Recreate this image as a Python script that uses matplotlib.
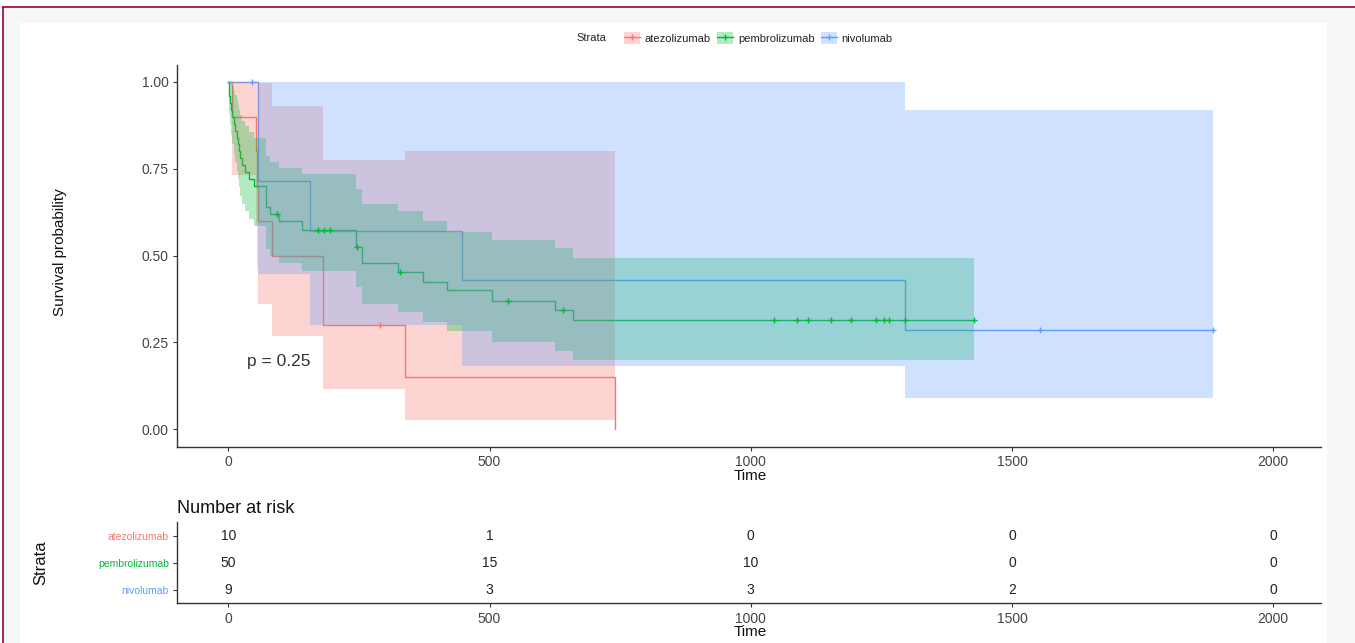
import numpy as np
import matplotlib
matplotlib.use('Agg')
import matplotlib.pyplot as plt
from matplotlib.patches import Patch, Rectangle
from matplotlib.lines import Line2D

plt.rcParams['font.family'] = ['Liberation Sans', 'DejaVu Sans']

# ---------------- data ----------------
strata = ['atezolizumab', 'pembrolizumab', 'nivolumab']
colors = ['#F8766D', '#00BA38', '#619CFF']

atezo_time = [0, 8, 53, 55, 57, 84, 181, 338, 740]
atezo_surv = [1.0, 0.90, 0.80, 0.70, 0.60, 0.50, 0.30, 0.15, 0.0]
atezo_lower = [1.0, 0.732, 0.587, 0.467, 0.362, 0.269, 0.116, 0.028, 0.0]
atezo_upper = [1.0, 1.0, 1.0, 1.0, 0.996, 0.93, 0.774, 0.80, 0.0]
atezo_censor = [290]
atezo_end = 740

pembro_time = [0, 1, 2, 4, 6, 8, 11, 13, 16, 19, 21, 23, 26, 32, 40, 50,
               73, 80, 98, 142, 245, 255, 324, 372, 418, 504, 625, 660]
pembro_surv = [1.0, 0.98, 0.96, 0.94, 0.92, 0.90, 0.88, 0.86, 0.84, 0.82,
               0.80, 0.78, 0.76, 0.74, 0.72, 0.70, 0.64, 0.62, 0.60, 0.575,
               0.525, 0.478, 0.452, 0.424, 0.400, 0.369, 0.343, 0.314]
pembro_lower = [1.0, 0.942, 0.907, 0.876, 0.848, 0.821, 0.794, 0.769, 0.744,
                0.720, 0.697, 0.673, 0.650, 0.628, 0.606, 0.584, 0.520, 0.500,
                0.478, 0.456, 0.409, 0.360, 0.337, 0.310, 0.283, 0.252, 0.226,
                0.199]
pembro_upper = [1.0, 1.0, 1.0, 1.0, 0.998, 0.987, 0.975, 0.962, 0.948, 0.934,
                0.919, 0.904, 0.888, 0.872, 0.856, 0.839, 0.788, 0.770, 0.752,
                0.734, 0.693, 0.650, 0.628, 0.600, 0.569, 0.546, 0.523, 0.493]
pembro_censor = [94, 171, 184, 194, 247, 328, 535, 640, 1045, 1089, 1110,
                 1154, 1191, 1240, 1255, 1265, 1295, 1428]
pembro_end = 1428

nivo_time = [0, 56, 156, 447, 1295]
nivo_surv = [1.0, 0.714, 0.571, 0.429, 0.286]
nivo_lower = [1.0, 0.447, 0.301, 0.183, 0.089]
nivo_upper = [1.0, 1.0, 1.0, 1.0, 0.919]
nivo_censor = [45, 1554, 1885]
nivo_end = 1885

risk_times = [0, 500, 1000, 1500, 2000]
atezo_risk = [10, 1, 0, 0, 0]
pembro_risk = [50, 15, 10, 0, 0]
nivo_risk = [9, 3, 3, 2, 0]

pval_text = 'p = 0.25'
x_ticks = [0, 500, 1000, 1500, 2000]
y_ticks = [0.0, 0.25, 0.5, 0.75, 1.0]
y_ticklabels = ['0.00', '0.25', '0.50', '0.75', '1.00']

series = [
    (atezo_time, atezo_surv, atezo_lower, atezo_upper, atezo_censor, atezo_end),
    (pembro_time, pembro_surv, pembro_lower, pembro_upper, pembro_censor, pembro_end),
    (nivo_time, nivo_surv, nivo_lower, nivo_upper, nivo_censor, nivo_end),
]
risks = [atezo_risk, pembro_risk, nivo_risk]

# ---------------- figure ----------------
W, H = 1355, 643
fig = plt.figure(figsize=(W / 100, H / 100), dpi=100, facecolor='white')
fig.patches.append(Rectangle((3 / W, 0), 1 - 3 / W, 1 - 7 / H, transform=fig.transFigure,
                             facecolor='#f6f6f6', edgecolor='none', zorder=-3))
fig.patches.append(Rectangle((20 / W, 0), (1327 - 20) / W, 1 - 23 / H, transform=fig.transFigure,
                             facecolor='white', edgecolor='none', zorder=-2))
border = '#a4123f'
fig.add_artist(Line2D([3 / W, 1], [1 - 7 / H, 1 - 7 / H], transform=fig.transFigure,
                      color=border, lw=1.3))
fig.add_artist(Line2D([3 / W, 3 / W], [0, 1 - 7 / H], transform=fig.transFigure,
                      color=border, lw=1.3))

xlim = (-97.6, 2091)
axis_col = '#333333'
tick_col = '#444444'

ax = fig.add_axes([177.3 / W, (H - 446.7) / H, 1143.4 / W, (446.7 - 64.6) / H])
ax.set_facecolor('white')
ax.set_xlim(*xlim)
ax.set_ylim(-0.05, 1.05)

for (t, s, lo, up, cens, end), c in zip(series, colors):
    t = np.asarray(t, float)
    s = np.asarray(s, float)
    lo = np.asarray(lo, float)
    up = np.asarray(up, float)
    tt = np.append(t, end)
    ss = np.append(s, s[-1])
    ll = np.append(lo, lo[-1])
    uu = np.append(up, up[-1])
    ax.step(tt, ss, where='post', color=c, lw=1.0, zorder=2)
    ax.fill_between(tt, ll, uu, step='post', color=c, alpha=0.3, lw=0, zorder=3)
    cens = np.asarray(cens, float)
    idx = np.searchsorted(t, cens, side='right') - 1
    ax.plot(cens, s[idx], linestyle='none', marker='+', ms=5, mew=1.0, color=c, zorder=4)

ax.text(36, 0.195, pval_text, ha='left', va='center', fontsize=12.5, color='#333333')

for side in ['top', 'right']:
    ax.spines[side].set_visible(False)
for side in ['left', 'bottom']:
    ax.spines[side].set_color(axis_col)
    ax.spines[side].set_linewidth(1.0)
ax.set_xticks(x_ticks)
ax.set_xticklabels([str(v) for v in x_ticks])
ax.set_yticks(y_ticks)
ax.set_yticklabels(y_ticklabels)
ax.tick_params(axis='both', direction='out', length=3, width=0.8, color=axis_col,
               labelsize=10, labelcolor=tick_col, pad=3)
ax.set_xlabel('Time', fontsize=11, color='#111111')
ax.xaxis.set_label_coords(0.5009, -0.058)
ax.set_ylabel('Survival probability', fontsize=11, color='#111111')
ax.yaxis.set_label_coords(-0.0965, 0.51)

# legend at top
fig.text(606 / W, 1 - 38 / H, 'Strata', ha='right', va='center', fontsize=8, color='#222222')
handles = [(Patch(facecolor=c, alpha=0.3, edgecolor='none'),
            Line2D([], [], color=c, lw=1.0, marker='+', ms=5, mew=1.0)) for c in colors]
fig.legend(handles, strata, loc='center left', bbox_to_anchor=(624 / W, 1 - 38 / H),
           ncol=3, frameon=False, fontsize=8, handlelength=1.4, handleheight=1.2,
           handletextpad=0.45, columnspacing=0.6, borderpad=0, borderaxespad=0,
           labelcolor='#222222')

# ---------------- risk table ----------------
axt = fig.add_axes([177.3 / W, (H - 603.3) / H, 1143.4 / W, 81 / H])
axt.set_facecolor('white')
axt.set_xlim(*xlim)
axt.set_ylim(3.5, 0.5)
for i, r in enumerate(risks):
    for tx, v in zip(risk_times, r):
        axt.text(tx, i + 1, str(v), ha='center', va='center', fontsize=10, color='#222222')
for side in ['top', 'right']:
    axt.spines[side].set_visible(False)
for side in ['left', 'bottom']:
    axt.spines[side].set_color(axis_col)
    axt.spines[side].set_linewidth(1.0)
axt.set_xticks(x_ticks)
axt.set_xticklabels([str(v) for v in x_ticks])
axt.set_yticks([1, 2, 3])
axt.set_yticklabels(strata)
axt.tick_params(axis='both', direction='out', length=3, width=0.8, color=axis_col,
                labelsize=10, labelcolor=tick_col, pad=3)
axt.tick_params(axis='y', labelsize=7.5)
for lab, c in zip(axt.get_yticklabels(), colors):
    lab.set_color(c)
axt.set_xlabel('Time', fontsize=11, color='#111111')
axt.xaxis.set_label_coords(0.5009, -0.27)
axt.set_ylabel('Strata', fontsize=12, color='#111111')
axt.yaxis.set_label_coords(-0.113, 0.5)
axt.set_title('Number at risk', loc='left', fontsize=13, pad=7, color='#111111')

fig.savefig('out.png', dpi=100, facecolor=fig.get_facecolor())
